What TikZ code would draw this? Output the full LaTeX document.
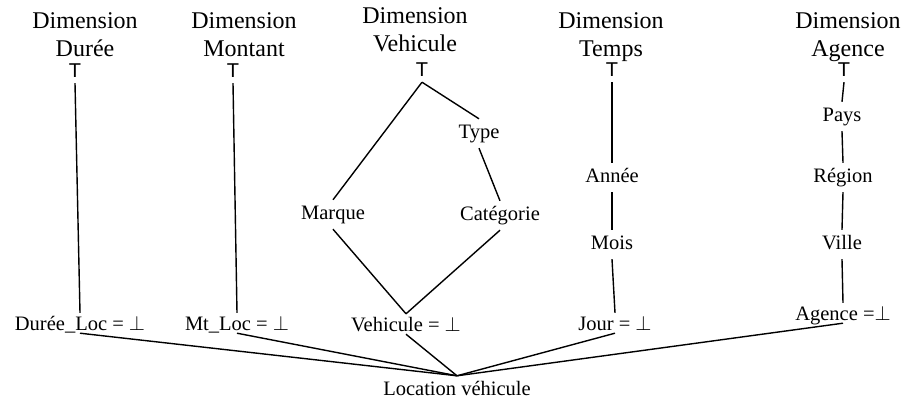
\documentclass[tikz,border=0pt]{standalone}
\usepackage{fontspec}
\setmainfont{Liberation Serif}
\newfontfamily\topfont{Liberation Sans}
\begin{document}
\begin{tikzpicture}[x=1pt,y=-1pt,
  heading/.style={font=\fontsize{24}{28}\selectfont, align=center, anchor=base, inner sep=0pt},
  topsym/.style={font=\topfont\fontsize{20}{24}\selectfont, anchor=base, inner sep=0pt, text depth=5pt},
  level/.style={font=\fontsize{20.5}{24}\selectfont, anchor=base, inner sep=0pt, text height=20pt, text depth=9pt},
  leaf/.style={font=\fontsize{20.5}{24}\selectfont, anchor=base, inner sep=0pt, text height=18pt, text depth=2pt},
  fact/.style={font=\fontsize{20.5}{24}\selectfont, anchor=base, inner sep=0pt, text height=20pt, text depth=5pt},
  link/.style={line width=1.4pt}]
\useasboundingbox (0,0) rectangle (903,403);
% headings (anchor base = baseline of the last line)
\node[heading] (hdur) at (85,57) {Dimension\\Durée};
\node[heading] (hmon) at (244,57) {Dimension\\Montant};
\node[heading] (hveh) at (415,52) {Dimension\\Vehicule};
\node[heading] (htem) at (611,57) {Dimension\\Temps};
\node[heading] (hage) at (848,57) {Dimension\\Agence};
% top symbols
\node[topsym] (tdur) at (75,78) {T};
\node[topsym] (tmon) at (233,78) {T};
\node[topsym] (tveh) at (422,77) {T};
\node[topsym] (ttem) at (612,77) {T};
\node[topsym] (tage) at (844,77) {T};
% levels
\node[level] (type) at (479,139) {Type};
\node[level] (marque) at (333,220) {Marque};
\node[level] (categ) at (500,221) {Catégorie};
\node[level] (annee) at (612,183) {Année};
\node[level] (mois) at (612,250) {Mois};
\node[level] (pays) at (842,122) {Pays};
\node[level] (region) at (843,183) {Région};
\node[level] (ville) at (842,250) {Ville};
% leaves
\node[leaf] (ldur) at (80,331) {Durée\_Loc = $\perp$};
\node[leaf] (lmon) at (237,331) {Mt\_Loc = $\perp$};
\node[leaf] (lveh) at (406,332) {Vehicule = $\perp$};
\node[leaf] (ljour) at (615,331) {Jour = $\perp$};
\node[leaf] (lage) at (843,321) {Agence =$\perp$};
% fact
\node[fact] (loc) at (457,396) {Location véhicule};
% connectors
\draw[link] (tdur.south) -- (ldur.north);
\draw[link] (tmon.south) -- (lmon.north);
\draw[link] (tveh.south) -- (marque.north);
\draw[link] (tveh.south) -- (type.north);
\draw[link] (type.south) -- (categ.north);
\draw[link] (marque.south) -- (lveh.north);
\draw[link] (categ.south) -- (lveh.north);
\draw[link] (ttem.south) -- (annee.north);
\draw[link] (annee.south) -- (mois.north);
\draw[link] (mois.south) -- (ljour.north);
\draw[link] (tage.south) -- (pays.north);
\draw[link] (pays.south) -- (region.north);
\draw[link] (region.south) -- (ville.north);
\draw[link] (ville.south) -- (lage.north);
\draw[link] (ldur.south) -- (loc.north);
\draw[link] (lmon.south) -- (loc.north);
\draw[link] (lveh.south) -- (loc.north);
\draw[link] (ljour.south) -- (loc.north);
\draw[link] (lage.south) -- (loc.north);
\end{tikzpicture}
\end{document}
